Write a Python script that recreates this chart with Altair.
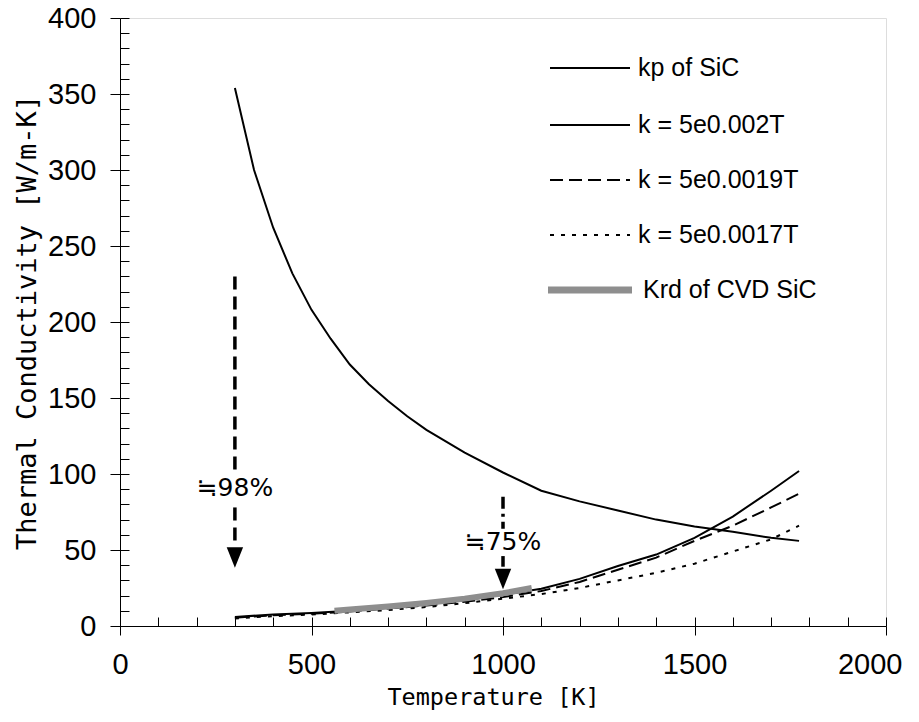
import altair as alt
import pandas as pd

# ---- data ----
T_grid = [300, 400, 500, 600, 700, 800, 900, 1000, 1100, 1200, 1300, 1400, 1500, 1600, 1700, 1773]
k_002 = [6, 7.5, 8.5, 10, 12, 14.5, 17, 20.5, 24.5, 31, 39.5, 47, 58, 72, 89, 102]
k_0019 = [5.5, 7, 8, 9.5, 11.5, 13.5, 16, 19, 23, 29, 37, 45, 56, 66, 78, 87]
k_0017 = [5, 6.5, 7.5, 9, 10.5, 12.5, 15, 18, 21, 25, 30, 35, 41, 49, 57, 66]

T_kp = [300, 350, 400, 450, 500, 550, 600, 650, 700, 750, 800, 900, 1000, 1100, 1200, 1300,
        1400, 1500, 1600, 1700, 1773]
kp = [354, 300, 262, 232, 208, 189, 172, 159, 148, 138, 129, 114, 101, 89, 82, 76,
      70, 65.5, 62, 58, 56]

T_krd = [560, 600, 700, 800, 900, 1000, 1075]
krd = [10, 10.8, 12.8, 15.2, 18, 21.5, 25]

series_labels = ["kp of SiC", "k = 5e0.002T", "k = 5e0.0019T", "k = 5e0.0017T", "Krd of CVD SiC"]

ann_T = [300, 1000]
ann_text = ["≒98%", "≒75%"]
ann_k = [91, 55]

arrow1_T = [300, 300]
arrow1_top = [230, 78]
arrow1_bottom = [103, 52]
arrow2_T = [1000, 1000]
arrow2_top = [85, 46]
arrow2_bottom = [64, 39]
head_T = [300, 1000]
head_k = [45, 31]

# ---- frames ----
df_kp = pd.DataFrame({"T": T_kp, "k": kp})
df_1 = pd.DataFrame({"T": T_grid, "k": k_002})
df_2 = pd.DataFrame({"T": T_grid, "k": k_0019})
df_3 = pd.DataFrame({"T": T_grid, "k": k_0017})
df_krd = pd.DataFrame({"T": T_krd, "k": krd})
df_a1 = pd.DataFrame({"T": arrow1_T, "top": arrow1_top, "bottom": arrow1_bottom})
df_a2 = pd.DataFrame({"T": arrow2_T, "top": arrow2_top, "bottom": arrow2_bottom})
df_head = pd.DataFrame({"T": head_T, "k": head_k})
df_ann = pd.DataFrame({"T": ann_T, "k": ann_k, "text": ann_text})

xs = alt.Scale(domain=[0, 2000], nice=False, zero=False)
ys = alt.Scale(domain=[0, 400], nice=False)

TITLE_FONT = "DejaVu Sans Mono"
LABEL_FONT = "Liberation Sans"

main_x = alt.Axis(values=[0, 500, 1000, 1500, 2000], format="d", tickSize=9, labelPadding=15,
                  labelFont=LABEL_FONT, labelFontSize=29, labelColor="black",
                  labelAlign={"condition": {"test": "datum.value == 2000", "value": "right"},
                              "value": "center"},
                  labelOffset={"condition": {"test": "datum.value == 2000", "value": 16},
                               "value": 0},
                  labelFlush=False, labelOverlap=False, grid=False,
                  domainColor="black", tickColor="black", title="Temperature [K]",
                  titleFont=TITLE_FONT, titleFontSize=23.5, titleFontWeight="normal",
                  titleColor="black", titlePadding=6, titleX=373, titleAlign="center")
main_y = alt.Axis(values=list(range(0, 401, 50)), format="d", tickSize=10, labelPadding=14,
                  labelFont=LABEL_FONT, labelFontSize=29, labelColor="black",
                  labelOverlap=False, grid=False, domainColor="black", tickColor="black",
                  title="Thermal Conductivity [W/m-K]", titleFont=TITLE_FONT,
                  titleFontSize=27, titleFontWeight="normal", titleColor="black",
                  titlePadding=6)
minor_x = alt.Axis(orient="bottom", values=list(range(0, 2001, 100)), tickSize=9, offset=-9,
                   labels=False, domain=False, grid=False, tickColor="black", title=None)
minor_y = alt.Axis(orient="left", values=list(range(0, 401, 10)), tickSize=9, offset=-9,
                   labels=False, domain=False, grid=False, tickColor="black", title=None)

kp_line = alt.Chart(df_kp).mark_line(color="black", strokeWidth=2).encode(
    x=alt.X("T:Q", scale=xs, axis=main_x), y=alt.Y("k:Q", scale=ys, axis=main_y))
l1 = alt.Chart(df_1).mark_line(color="black", strokeWidth=2).encode(
    x=alt.X("T:Q", scale=xs, axis=minor_x), y=alt.Y("k:Q", scale=ys, axis=minor_y))
l2 = alt.Chart(df_2).mark_line(color="black", strokeWidth=2, strokeDash=[13, 6]).encode(
    x=alt.X("T:Q", scale=xs, axis=None), y=alt.Y("k:Q", scale=ys, axis=None))
l3 = alt.Chart(df_3).mark_line(color="black", strokeWidth=2, strokeDash=[4, 7]).encode(
    x=alt.X("T:Q", scale=xs, axis=None), y=alt.Y("k:Q", scale=ys, axis=None))
lk = alt.Chart(df_krd).mark_line(color="#8e8e8e", strokeWidth=6).encode(
    x=alt.X("T:Q", scale=xs, axis=None), y=alt.Y("k:Q", scale=ys, axis=None))

a1 = alt.Chart(df_a1).mark_rule(color="black", strokeWidth=3.5, strokeDash=[13, 7]).encode(
    x=alt.X("T:Q", scale=xs, axis=None), y=alt.Y("top:Q", scale=ys, axis=None), y2="bottom:Q")
a2 = alt.Chart(df_a2).mark_rule(color="black", strokeWidth=3.5, strokeDash=[12, 5, 3, 5]).encode(
    x=alt.X("T:Q", scale=xs, axis=None), y=alt.Y("top:Q", scale=ys, axis=None), y2="bottom:Q")
heads = alt.Chart(df_head).mark_point(shape="M-0.8,-1L0.8,-1L0,1Z", size=420, filled=True,
                                      color="black", opacity=1).encode(
    x=alt.X("T:Q", scale=xs, axis=None), y=alt.Y("k:Q", scale=ys, axis=None))
ann = alt.Chart(df_ann).mark_text(font="DejaVu Sans", fontSize=25, color="black",
                                  align="center", baseline="middle").encode(
    x=alt.X("T:Q", scale=xs, axis=None), y=alt.Y("k:Q", scale=ys, axis=None), text="text:N")

# ---- manual legend (pixel layout inside the plot area) ----
leg_rows_y = [50, 107, 162, 217, 272]
leg_styles = [
    dict(color="black", strokeWidth=2),
    dict(color="black", strokeWidth=2),
    dict(color="black", strokeWidth=2, strokeDash=[13, 6]),
    dict(color="black", strokeWidth=2, strokeDash=[4, 7]),
    dict(color="#8e8e8e", strokeWidth=7),
]
legend_layers = []
for i, lab in enumerate(series_labels):
    d = pd.DataFrame({"label": [lab]})
    x0, x1, tx = (430, 510, 518) if i < 4 else (428, 512, 523)
    legend_layers.append(alt.Chart(d).mark_rule(**leg_styles[i]).encode(
        x=alt.value(x0), x2=alt.value(x1), y=alt.value(leg_rows_y[i])))
    legend_layers.append(alt.Chart(d).mark_text(font=LABEL_FONT, fontSize=25, color="black",
                                                align="left", baseline="middle").encode(
        x=alt.value(tx), y=alt.value(leg_rows_y[i]), text="label:N"))

chart = alt.layer(kp_line, l1, l2, l3, lk, a1, a2, heads, ann, *legend_layers).resolve_axis(
    x="independent", y="independent"
).properties(
    width=766, height=608,
    autosize=alt.AutoSizeParams(type="none"),
    padding={"left": 112, "top": 10, "right": 20, "bottom": 84},
).configure_view(stroke=None).configure(background="white")

chart.save("out.html", embed_options={"renderer": "svg", "actions": False})
